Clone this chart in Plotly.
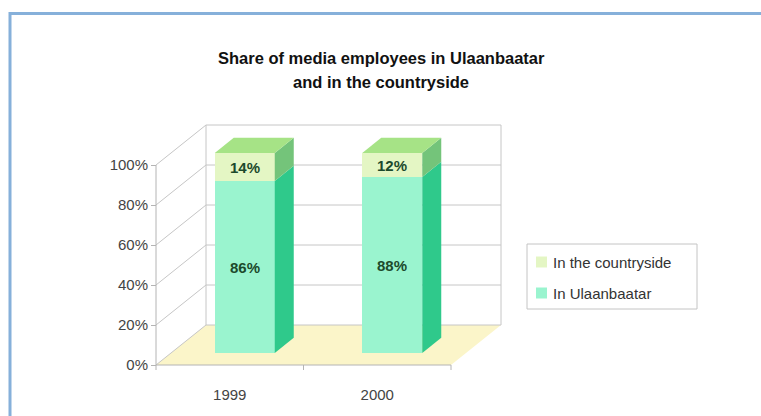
import plotly.graph_objects as go

# ---- data -------------------------------------------------------------
years = ["1999", "2000"]
in_ulaanbaatar = [86, 88]
in_countryside = [14, 12]
y_ticks = [0, 20, 40, 60, 80, 100]
series_names = ["In Ulaanbaatar", "In the countryside"]

# ---- oblique 3-D projection settings ----------------------------------
SX = 147.5            # pixels per category unit
SY = 2.0              # pixels per percent
WALL_DX = 50 / SX     # depth offset of the back wall (category units)
WALL_DY = 40 / SY     # depth offset of the back wall (percent units)
BAR_F0, BAR_F1 = 0.3, 0.68   # bar depth span as a fraction of wall depth
BAR_HALF = 30 / SX    # half bar width

# plot area in pixels and the front-bottom-left corner of the box
L, R, T, B = 140, 512, 120, 375
X0_PX, Y0_PX = 156, 365
x_range = [-0.5 + (L - X0_PX) / SX, -0.5 + (R - X0_PX) / SX]
y_range = [(Y0_PX - B) / SY, (Y0_PX - T) / SY]

W, H = 761, 416

C_UB_FRONT = "#9af4cf"
C_UB_SIDE = "#2fc98b"
C_CS_FRONT = "#e4f6c4"
C_CS_SIDE = "#74c47a"
C_TOP = "#a6e386"
C_FLOOR = "#fbf5c9"
C_GRID = "#c6c6c6"
FONT = "Liberation Sans, Arial, sans-serif"

n = len(years)
x_left = -0.5
x_right = n - 0.5


def depth(f):
    return WALL_DX * f, WALL_DY * f


def path(points):
    return "M " + " L ".join(f"{x},{y}" for x, y in points) + " Z"


def px_to_paper_x(px):
    return (px - L) / (R - L)


def px_to_paper_y(py):
    return (B - py) / (B - T)


shapes = []
# floor
shapes.append(dict(type="path", xref="x", yref="y", layer="below",
                   path=path([(x_left, 0), (x_right, 0),
                              (x_right + WALL_DX, WALL_DY), (x_left + WALL_DX, WALL_DY)]),
                   fillcolor=C_FLOOR, line=dict(width=0)))
# back wall and left wall grid lines
for v in y_ticks:
    shapes.append(dict(type="line", xref="x", yref="y", layer="below",
                       x0=x_left + WALL_DX, y0=v + WALL_DY, x1=x_right + WALL_DX, y1=v + WALL_DY,
                       line=dict(color=C_GRID, width=1)))
    shapes.append(dict(type="line", xref="x", yref="y", layer="below",
                       x0=x_left, y0=v, x1=x_left + WALL_DX, y1=v + WALL_DY,
                       line=dict(color=C_GRID, width=1)))
# back wall verticals
for xv in (x_left + WALL_DX, x_right + WALL_DX):
    shapes.append(dict(type="line", xref="x", yref="y", layer="below",
                       x0=xv, y0=WALL_DY, x1=xv, y1=y_ticks[-1] + WALL_DY,
                       line=dict(color=C_GRID, width=1)))
# front value axis line
shapes.append(dict(type="line", xref="x", yref="y", layer="below",
                   x0=x_left, y0=0, x1=x_left, y1=y_ticks[-1],
                   line=dict(color="#b4b4b4", width=1)))
# front category axis line and its boundary ticks
shapes.append(dict(type="line", xref="x", yref="y", layer="below",
                   x0=x_left, y0=0, x1=x_right, y1=0,
                   line=dict(color="#b4b4b4", width=1)))
for i in range(n + 1):
    xb = x_left + i
    shapes.append(dict(type="line", xref="x", yref="y", layer="below",
                       x0=xb, y0=0, x1=xb, y1=-5 / SY,
                       line=dict(color="#b4b4b4", width=1)))

# outer frame (top and left edges)
shapes.append(dict(type="line", xref="paper", yref="paper",
                   x0=px_to_paper_x(9), y0=px_to_paper_y(13.5),
                   x1=px_to_paper_x(W + 2), y1=px_to_paper_y(13.5),
                   line=dict(color="#86b0da", width=3)))
shapes.append(dict(type="line", xref="paper", yref="paper",
                   x0=px_to_paper_x(10), y0=px_to_paper_y(12),
                   x1=px_to_paper_x(10), y1=px_to_paper_y(H + 2),
                   line=dict(color="#86b0da", width=3)))

fig = go.Figure()

dx0, dy0 = depth(BAR_F0)
dx1, dy1 = depth(BAR_F1)

# side and top faces of each stacked column
for i in range(n):
    xc = i + dx0
    xr_ = xc + BAR_HALF
    xl_ = xc - BAR_HALF
    segs = [(dy0, dy0 + in_ulaanbaatar[i], C_UB_SIDE),
            (dy0 + in_ulaanbaatar[i], dy0 + in_ulaanbaatar[i] + in_countryside[i], C_CS_SIDE)]
    for y0, y1, col in segs:
        xs = [xr_, xr_ + (dx1 - dx0), xr_ + (dx1 - dx0), xr_, xr_]
        ys = [y0, y0 + (dy1 - dy0), y1 + (dy1 - dy0), y1, y0]
        fig.add_trace(go.Scatter(x=xs, y=ys, mode="lines", fill="toself",
                                 fillcolor=col, line=dict(width=0, color=col),
                                 showlegend=False, hoverinfo="skip"))
    top = dy0 + in_ulaanbaatar[i] + in_countryside[i]
    xs = [xl_, xr_, xr_ + (dx1 - dx0), xl_ + (dx1 - dx0), xl_]
    ys = [top, top, top + (dy1 - dy0), top + (dy1 - dy0), top]
    fig.add_trace(go.Scatter(x=xs, y=ys, mode="lines", fill="toself",
                             fillcolor=C_TOP, line=dict(width=0, color=C_TOP),
                             showlegend=False, hoverinfo="skip"))

# front faces of the stacked columns
x_front = [i + dx0 for i in range(n)]
fig.add_trace(go.Bar(
    name=series_names[0], x=x_front, y=in_ulaanbaatar,
    base=[dy0] * n, width=2 * BAR_HALF,
    marker=dict(color=C_UB_FRONT, line=dict(width=0)),
    text=[f"<b>{v}%</b>" for v in in_ulaanbaatar],
    textposition="inside", insidetextanchor="middle",
    textfont=dict(family=FONT, size=15, color="#1c4a2c"),
    showlegend=False, hoverinfo="skip"))
fig.add_trace(go.Bar(
    name=series_names[1], x=x_front, y=in_countryside,
    base=[dy0 + v for v in in_ulaanbaatar], width=2 * BAR_HALF,
    marker=dict(color=C_CS_FRONT, line=dict(width=0)),
    text=[f"<b>{v}%</b>" for v in in_countryside],
    textposition="inside", insidetextanchor="middle",
    textfont=dict(family=FONT, size=15, color="#1c4a2c"),
    showlegend=False, hoverinfo="skip"))

annotations = [
    dict(text="<b>Share of media employees in Ulaanbaatar</b>", xref="paper", yref="paper",
         x=px_to_paper_x(381), y=px_to_paper_y(58), showarrow=False,
         xanchor="center", yanchor="middle",
         font=dict(family=FONT, size=16.5, color="#111111")),
    dict(text="<b>and in the countryside</b>", xref="paper", yref="paper",
         x=px_to_paper_x(381), y=px_to_paper_y(82), showarrow=False,
         xanchor="center", yanchor="middle",
         font=dict(family=FONT, size=16.5, color="#111111")),
]

# legend box with swatches (countryside listed first)
LEG_X0, LEG_X1, LEG_Y0, LEG_Y1 = 527, 697, 244, 309
shapes.append(dict(type="rect", xref="paper", yref="paper",
                   x0=px_to_paper_x(LEG_X0), x1=px_to_paper_x(LEG_X1),
                   y0=px_to_paper_y(LEG_Y1), y1=px_to_paper_y(LEG_Y0),
                   line=dict(color="#c4c4c4", width=1), fillcolor="white"))
legend_items = [(series_names[1], C_CS_FRONT, 262), (series_names[0], C_UB_FRONT, 293)]
for label, col, yc in legend_items:
    shapes.append(dict(type="rect", xref="paper", yref="paper",
                       x0=px_to_paper_x(536), x1=px_to_paper_x(547),
                       y0=px_to_paper_y(yc + 5.5), y1=px_to_paper_y(yc - 5.5),
                       line=dict(width=0), fillcolor=col))
    annotations.append(dict(text=label, xref="paper", yref="paper",
                            x=px_to_paper_x(551), y=px_to_paper_y(yc), showarrow=False,
                            xanchor="left", yanchor="middle",
                            font=dict(family=FONT, size=15, color="#333333")))

fig.update_layout(
    width=W, height=H,
    margin=dict(l=L, r=W - R, t=T, b=H - B),
    paper_bgcolor="white", plot_bgcolor="rgba(0,0,0,0)",
    barmode="overlay", bargap=0,
    shapes=shapes, annotations=annotations,
    showlegend=False,
    xaxis=dict(range=x_range, tickvals=list(range(n)), ticktext=years,
               showgrid=False, zeroline=False, showline=False, ticks="",
               tickfont=dict(family=FONT, size=15, color="#444444"),
               ticklabelstandoff=9, fixedrange=True),
    yaxis=dict(range=y_range, tickvals=y_ticks, ticktext=[f"{v}%" for v in y_ticks],
               anchor="free", position=px_to_paper_x(X0_PX),
               showgrid=False, zeroline=False, showline=False,
               ticks="outside", ticklen=5, tickcolor="#b4b4b4",
               tickfont=dict(family=FONT, size=15, color="#444444"),
               fixedrange=True),
)

fig.write_html("out.html")
